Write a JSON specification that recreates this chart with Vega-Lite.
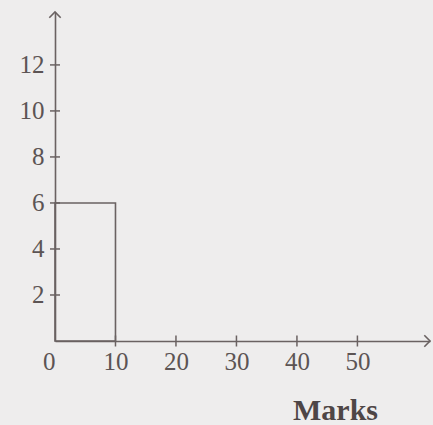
{
  "$schema": "https://vega.github.io/schema/vega-lite/v6.json",
  "width": 375,
  "height": 329,
  "autosize": {"type": "none"},
  "padding": {"left": 55, "top": 12, "right": 3, "bottom": 84},
  "background": "#eeeded",
  "config": {
    "view": {"stroke": null},
    "axis": {"grid": false, "domainColor": "#6a6262", "domainWidth": 1.6, "labelFont": "Liberation Serif", "labelFontSize": 25, "labelColor": "#5c5454", "titleFont": "Liberation Serif", "titleColor": "#4e4646"}
  },
  "data": {"values": [{"bin_start": 0, "bin_end": 10, "frequency": 6}]},
  "layer": [
    {
      "mark": {"type": "rect", "fillOpacity": 0, "stroke": "#6a6262", "strokeWidth": 1.6},
      "encoding": {
        "x": {"field": "bin_start", "type": "quantitative", "scale": {"domain": [0, 62], "nice": false, "zero": true},
          "axis": {"values": [0, 10, 20, 30, 40, 50], "ticks": false, "labelPadding": 8, "labelAlign": {"condition": {"test": "datum.value == 0", "value": "right"}, "value": "center"}, "labelExpr": "datum.value == 0 ? '0\u200a' : datum.label", "title": "Marks", "titleFontSize": 30, "titleFontWeight": "bold", "titleX": 280, "titleY": 78, "titleBaseline": "alphabetic", "titleAlign": "center", "titleAnchor": null}},
        "x2": {"field": "bin_end"},
        "y": {"field": "frequency", "type": "quantitative", "scale": {"domain": [0, 14.3], "nice": false},
          "axis": {"values": [2, 4, 6, 8, 10, 12], "ticks": false, "labelPadding": 11, "title": null}},
        "y2": {"datum": 0}
      }
    },
    {
      "data": {"values": [{"mark": 10}, {"mark": 20}, {"mark": 30}, {"mark": 40}, {"mark": 50}]},
      "mark": {"type": "tick", "orient": "vertical", "size": 11, "thickness": 1.5, "color": "#6a6262", "opacity": 1},
      "encoding": {"x": {"field": "mark", "type": "quantitative"}, "y": {"datum": 0}}
    },
    {
      "data": {"values": [{"freq": 2}, {"freq": 4}, {"freq": 6}, {"freq": 8}, {"freq": 10}, {"freq": 12}]},
      "mark": {"type": "tick", "orient": "horizontal", "size": 10, "thickness": 1.5, "color": "#6a6262", "opacity": 1},
      "encoding": {"y": {"field": "freq", "type": "quantitative"}, "x": {"datum": 0}}
    },
    {
      "data": {"values": [{}]},
      "mark": {"type": "point", "shape": "M-1,-1L0,0L-1,1", "filled": false, "size": 130, "stroke": "#6a6262", "strokeWidth": 1.6, "opacity": 1, "clip": false},
      "encoding": {"x": {"datum": 62}, "y": {"datum": 0}}
    },
    {
      "data": {"values": [{}]},
      "mark": {"type": "point", "shape": "M-1,1L0,0L1,1", "filled": false, "size": 130, "stroke": "#6a6262", "strokeWidth": 1.6, "opacity": 1, "clip": false},
      "encoding": {"x": {"datum": 0}, "y": {"datum": 14.3}}
    }
  ]
}
